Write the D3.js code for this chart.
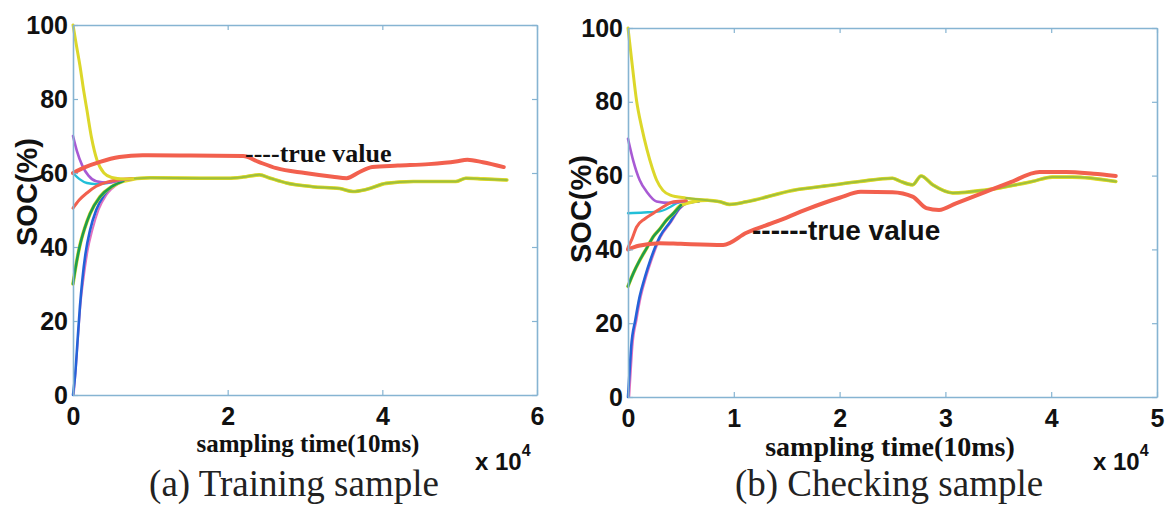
<!DOCTYPE html>
<html>
<head>
<meta charset="utf-8">
<script src="https://cdn.jsdelivr.net/npm/d3@7"></script>
<style>
  body { margin: 0; background: #fff; }
  svg { display: block; }
</style>
</head>
<body>
<svg></svg>
<script>
// ticks
var yTicks = [0, 20, 40, 60, 80, 100];
var leftXTicks = [0, 2, 4, 6];
var rightXTicks = [0, 1, 2, 3, 4, 5];

// (a) training sample, x in units of 10^4 samples, y = SOC %
var leftTrue = [[0,60],[0.15,61.5],[0.35,63],[0.6,64.3],[0.9,64.8],[1.5,64.7],[2.2,64.6],[2.4,63],[2.63,61.3],[3.0,60],[3.36,59],[3.54,58.6],[3.7,60.2],[3.87,61.6],[4.2,62],[4.6,62.4],[4.95,63.1],[5.1,63.6],[5.3,62.9],[5.57,61.6]];
var leftTail = [[0.8,58.5],[1.0,58.7],[1.64,58.6],[2.0,58.6],[2.2,58.9],[2.41,59.5],[2.55,58.6],[2.76,57.3],[3.1,56.3],[3.45,55.8],[3.62,55],[3.8,55.6],[4.05,57.2],[4.4,57.7],[4.95,57.7],[5.08,58.6],[5.3,58.4],[5.61,58.1]];
var leftYellow = [[0,100],[0.04,95],[0.09,89],[0.14,82],[0.18,77],[0.24,69.5],[0.31,63.5],[0.4,60],[0.5,58.8],[0.65,58.4]];
var leftPurple = [[0,70],[0.05,66],[0.12,62],[0.2,59.3],[0.3,57.8],[0.45,57.4],[0.6,58],[0.8,58.5]];
var leftCyan = [[0,60],[0.08,58.4],[0.18,57.3],[0.3,57],[0.45,57.3],[0.6,58],[0.8,58.5]];
var leftRed = [[0,50.5],[0.08,52.7],[0.18,54.6],[0.3,56.4],[0.45,57.6],[0.6,58.2],[0.8,58.5]];
var leftGreen = [[0,30],[0.03,34],[0.09,40.5],[0.15,45],[0.22,49],[0.35,53.6],[0.5,56.3],[0.65,57.8]];
var leftMagenta = [[0.01,0],[0.04,8],[0.07,17],[0.1,25],[0.14,32],[0.19,39],[0.25,44.5],[0.33,50],[0.43,54],[0.58,57],[0.8,58.5]];
var leftBlue = [[0,0],[0.03,6],[0.06,15],[0.09,24],[0.12,31],[0.16,38],[0.22,44.5],[0.3,50],[0.4,54],[0.55,57],[0.8,58.5]];

// (b) checking sample
var rightTrue = [[0,40],[0.1,41],[0.3,41.7],[0.5,41.5],[0.9,41.2],[1.12,44.5],[1.4,47.5],[1.7,51],[2.0,54],[2.2,55.6],[2.5,55.5],[2.69,54.3],[2.82,51.2],[2.94,50.7],[3.1,52.5],[3.38,55.6],[3.6,58],[3.89,61],[4.14,61],[4.4,60.5],[4.61,59.9]];
var rightTail = [[0.55,53.9],[0.75,53.3],[0.87,52.9],[0.96,52.2],[1.12,52.9],[1.56,56],[1.9,57.3],[2.19,58.4],[2.5,59.3],[2.57,58.5],[2.69,57.5],[2.77,59.9],[2.88,57.5],[3.07,55.3],[3.38,56.1],[3.82,58.4],[4.01,59.6],[4.2,59.6],[4.61,58.4]];
var rightYellow = [[0,100],[0.04,90],[0.08,80.5],[0.13,73],[0.18,67],[0.23,62],[0.27,58.8],[0.33,56],[0.4,54.7]];
var rightPurple = [[0,70],[0.05,64],[0.11,58.8],[0.18,55.5],[0.27,53],[0.4,52.6],[0.55,53.2]];
var rightCyan = [[0,49.8],[0.15,50],[0.3,50.3],[0.4,51.5],[0.46,52.5],[0.55,53.2]];
var rightRed = [[0,40.5],[0.04,43],[0.08,46],[0.16,48.3],[0.24,49.8],[0.33,51.5],[0.43,52.9],[0.55,53.2]];
var rightGreen = [[0,30],[0.05,33.5],[0.11,37],[0.18,40.5],[0.24,43.5],[0.3,45.5],[0.36,47.8],[0.43,49.8],[0.5,52]];
var rightMagenta = [[0.012,0],[0.027,7],[0.042,13.6],[0.082,21],[0.122,27.2],[0.172,32.5],[0.222,37],[0.31,43.4],[0.41,47.5],[0.49,51],[0.56,52.5],[0.67,53]];
var rightBlue = [[0,0],[0.015,7],[0.03,13.6],[0.07,21],[0.11,27.2],[0.16,32.5],[0.21,37],[0.3,43.4],[0.4,47.5],[0.48,51],[0.55,52.5],[0.67,53]];

var axisColor = "#86b4d2";
var sans = "'Liberation Sans', Arial, sans-serif";
var serif = "'Liberation Serif', 'Times New Roman', serif";

var svg = d3.select("svg").attr("width", 1167).attr("height", 508);

function drawPanel(p) {
  var x = d3.scaleLinear().domain([0, p.xmax]).range([p.x0, p.x1]);
  var y = d3.scaleLinear().domain([0, 100]).range([p.y1, p.y0]);
  var g = svg.append("g");
  var line = d3.line().x(function(d){ return x(d[0]); }).y(function(d){ return y(d[1]); })
    .curve(d3.curveMonotoneX);

  // estimates first, true value on top
  p.series.forEach(function(s){
    g.append("path").datum(s.data)
      .attr("fill", "none")
      .attr("stroke", s.color)
      .attr("stroke-width", s.w)
      .attr("stroke-linejoin", "round")
      .attr("stroke-linecap", "round")
      .attr("d", line);
  });

  // axes, ticks pointing inward, labels bold
  var bottom = g.append("g").attr("transform", "translate(0," + p.y1 + ")")
    .call(d3.axisBottom(x).tickValues(p.xTicks).tickFormat(d3.format("d"))
      .tickSizeInner(-5).tickSizeOuter(0).tickPadding(12));
  var top = g.append("g").attr("transform", "translate(0," + p.y0 + ")")
    .call(d3.axisTop(x).tickValues(p.xTicks).tickFormat("").tickSizeInner(-5).tickSizeOuter(0));
  var left = g.append("g").attr("transform", "translate(" + p.x0 + ",0)")
    .call(d3.axisLeft(y).tickValues(yTicks).tickSizeInner(-5).tickSizeOuter(0).tickPadding(5));
  var right = g.append("g").attr("transform", "translate(" + p.x1 + ",0)")
    .call(d3.axisRight(y).tickValues(yTicks).tickFormat("").tickSizeInner(-5).tickSizeOuter(0));

  [bottom, top, left, right].forEach(function(a){
    a.select(".domain").attr("stroke", axisColor).attr("stroke-width", 1.6);
    a.selectAll(".tick line").attr("stroke", axisColor).attr("stroke-width", 1.2);
    a.selectAll("text").attr("fill", "#111").style("font-family", sans)
      .style("font-weight", "bold").style("font-size", "25px");
  });

  // y label
  g.append("text")
    .attr("transform", "translate(" + p.ylabX + "," + p.ylabY + ") rotate(-90)")
    .attr("text-anchor", "middle")
    .style("font-family", sans).style("font-weight", "bold").style("font-size", "29px")
    .attr("fill", "#111").text("SOC(%)");

  // x label
  g.append("text").attr("x", p.xlabX).attr("y", p.xlabY).attr("text-anchor", "middle")
    .style("font-family", serif).style("font-weight", "bold").style("font-size", p.xlabSize)
    .attr("fill", "#111").text("sampling time(10ms)");

  // x 10^4
  var m = g.append("text").attr("x", p.expX).attr("y", p.expY)
    .style("font-family", sans).style("font-weight", "bold").style("font-size", "24px")
    .attr("fill", "#111");
  m.append("tspan").text("x 10");
  m.append("tspan").attr("dy", -14).style("font-size", "16px").text("4");

  // annotation
  g.append("text").attr("x", p.annX).attr("y", p.annY)
    .style("font-family", p.annFont).style("font-weight", "bold").style("font-size", p.annSize)
    .attr("fill", "#111").text(p.annText);

  // caption
  g.append("text").attr("x", p.capX).attr("y", 496).attr("text-anchor", "middle")
    .style("font-family", serif).style("font-size", "37px").attr("fill", "#222")
    .text(p.caption);
}

function build(yellow, tail, purple, cyan, red, green, magenta, blue, truth) {
  return [
    { data: magenta, color: "#e070c0", w: 2 },
    { data: blue, color: "#2462d8", w: 2.6 },
    { data: green.concat(tail.slice(1)), color: "#e2dc2c", w: 3.6 },
    { data: green, color: "#1f9e4c", w: 2.6 },
    { data: cyan, color: "#22bfd8", w: 2.4 },
    { data: purple, color: "#a85ad4", w: 2.6 },
    { data: red, color: "#f2604e", w: 3 },
    { data: yellow.concat(tail), color: "#dcd72a", w: 3 },
    { data: tail, color: "#9dbf3c", w: 2 },
    { data: truth, color: "#f2604e", w: 4 }
  ];
}

drawPanel({
  x0: 73, x1: 537, y0: 25, y1: 395, xmax: 6, xTicks: leftXTicks,
  series: build(leftYellow, leftTail, leftPurple, leftCyan, leftRed, leftGreen, leftMagenta, leftBlue, leftTrue),
  ylabX: 37, ylabY: 192,
  xlabX: 308, xlabY: 452, xlabSize: "25px",
  expX: 475, expY: 470,
  annX: 245, annY: 162, annFont: serif, annSize: "26px", annText: "----true value",
  capX: 294, caption: "(a) Training sample"
});

drawPanel({
  x0: 628, x1: 1157, y0: 28, y1: 397, xmax: 5, xTicks: rightXTicks,
  series: build(rightYellow, rightTail, rightPurple, rightCyan, rightRed, rightGreen, rightMagenta, rightBlue, rightTrue),
  ylabX: 591, ylabY: 209,
  xlabX: 890, xlabY: 456, xlabSize: "28px",
  expX: 1093, expY: 470,
  annX: 752, annY: 240, annFont: sans, annSize: "28px", annText: "------true value",
  capX: 889, caption: "(b) Checking sample"
});
</script>
</body>
</html>
